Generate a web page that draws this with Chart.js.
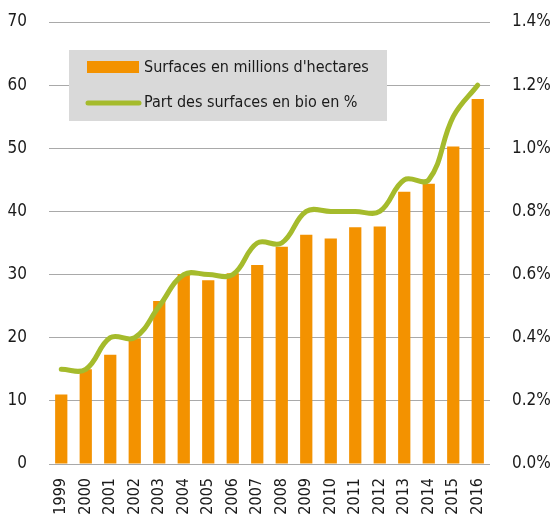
<!DOCTYPE html>
<html>
<head>
<meta charset="utf-8">
<script src="https://cdn.jsdelivr.net/npm/chart.js@4/dist/chart.umd.min.js"></script>
<style>
  html, body { margin: 0; padding: 0; background: #fff; }
  canvas { display: block; }
</style>
</head>
<body>
<canvas id="chart" width="554" height="518"></canvas>
<script>
const years = ['1999','2000','2001','2002','2003','2004','2005','2006','2007','2008','2009','2010','2011','2012','2013','2014','2015','2016'];
const surfaces = [11.0, 15.0, 17.3, 19.9, 25.8, 30.1, 29.1, 30.2, 31.5, 34.4, 36.3, 35.7, 37.5, 37.6, 43.1, 44.4, 50.3, 57.8];
const partBio = [0.3, 0.3, 0.4, 0.4, 0.5, 0.6, 0.6, 0.6, 0.7, 0.7, 0.8, 0.8, 0.8, 0.8, 0.9, 0.9, 1.1, 1.2];
const labelSurfaces = "Surfaces en millions d'hectares";
const labelPart = 'Part des surfaces en bio en %';

const FONT = '"DejaVu Sans Condensed", "Liberation Sans Narrow", sans-serif';
const ORANGE = '#f39200';
const GREEN = '#a5bb2c';
const GRID = '#a9a9a9';
const TEXT = '#1a1a1a';

// legend drawn inside the plot, on a grey box
const boxLegend = {
    id: 'boxLegend',
    afterDraw(chart) {
        const ctx = chart.ctx;
        const ds = chart.data.datasets;
        ctx.save();
        ctx.fillStyle = '#d9d9d9';
        ctx.fillRect(69, 50, 318, 71);
        ctx.font = '16px ' + FONT;
        ctx.textBaseline = 'middle';
        ctx.textAlign = 'left';

        ctx.fillStyle = ds[0].backgroundColor;
        ctx.fillRect(87, 61, 52, 12);
        ctx.fillStyle = TEXT;
        ctx.fillText(ds[0].label, 144, 68);

        ctx.strokeStyle = ds[1].borderColor;
        ctx.lineWidth = 5;
        ctx.lineCap = 'round';
        ctx.beginPath();
        ctx.moveTo(88, 103);
        ctx.lineTo(139, 103);
        ctx.stroke();
        ctx.fillStyle = TEXT;
        ctx.fillText(ds[1].label, 144, 103);
        ctx.restore();
    }
};

// the tick padding would otherwise push the plot top down
const fixY = w => s => { s.width = w; s.paddingTop = 10; s.paddingBottom = 10; };

new Chart(document.getElementById('chart').getContext('2d'), {
    plugins: [boxLegend],
    data: {
        labels: years,
        datasets: [
            {type: 'bar', label: labelSurfaces, data: surfaces, yAxisID: 'ySurf', backgroundColor: ORANGE,
             barPercentage: 0.5, categoryPercentage: 1, order: 1},
            {type: 'line', label: labelPart, data: partBio, yAxisID: 'yPct', borderColor: GREEN, backgroundColor: GREEN,
             borderWidth: 5, pointRadius: 0, tension: 0.4, borderCapStyle: 'round', order: 0}
        ]
    },
    options: {
        responsive: false,
        animation: false,
        layout: {padding: {top: 22, left: 0, right: 0, bottom: 0}},
        plugins: {legend: {display: false}, tooltip: {enabled: false}},
        scales: {
            x: {
                grid: {display: false, drawTicks: false},
                border: {display: false},
                ticks: {color: TEXT, font: {family: FONT, size: 16}, minRotation: 90, maxRotation: 90, padding: 14, autoSkip: false},
                afterFit(s) { s.height = 54; }
            },
            ySurf: {
                position: 'left', min: 0, max: 70,
                grid: {color: GRID, lineWidth: 1, drawTicks: false},
                border: {display: false},
                ticks: {stepSize: 10, color: TEXT, font: {family: FONT, size: 17}, padding: 22},
                afterFit: fixY(49)
            },
            yPct: {
                position: 'right', min: 0, max: 1.4,
                grid: {drawOnChartArea: false, drawTicks: false},
                border: {display: false},
                ticks: {stepSize: 0.2, color: TEXT, font: {family: FONT, size: 17}, padding: 22,
                        callback: v => v.toFixed(1) + '%'},
                afterFit: fixY(64)
            }
        }
    }
});
</script>
</body>
</html>
